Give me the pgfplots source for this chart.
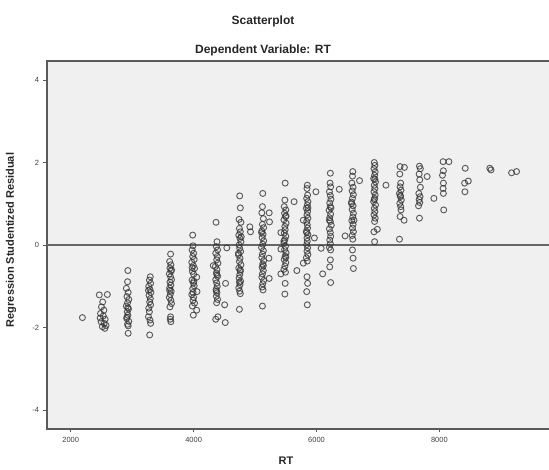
\documentclass[border=0pt]{standalone}
\usepackage{pgfplots}
\pgfplotsset{compat=1.18}
\usepackage{pgfplotstable}
\usepackage{fontspec}
\setmainfont{Liberation Sans}
\definecolor{bgc}{HTML}{F0F0F0}
\definecolor{axc}{HTML}{5A5A5A}
\pgfplotstableread{
x y
2190 -1.76
2465 -1.21
2596 -1.20
2520 -1.38
2500 -1.50
2540 -1.58
2485 -1.66
2530 -1.72
2560 -1.80
2495 -1.86
2545 -1.90
2575 -1.95
2515 -1.98
2555 -2.02
2480 -1.77
2930 -0.62
2925 -0.89
2905 -1.05
2935 -1.15
2915 -1.25
2945 -1.32
2925 -1.40
2905 -1.48
2940 -1.55
2920 -1.62
2930 -1.70
2910 -1.78
2945 -1.85
2925 -1.92
2935 -1.96
2915 -1.75
2930 -1.52
2935 -2.14
3295 -0.77
3280 -0.85
3300 -0.93
3270 -1.00
3290 -1.08
3305 -1.15
3275 -1.22
3295 -1.30
3285 -1.38
3265 -1.10
3300 -1.45
3270 -1.53
3280 -1.62
3265 -1.74
3290 -1.82
3300 -1.90
3285 -2.18
3625 -0.22
3610 -0.40
3630 -0.48
3615 -0.56
3635 -0.63
3605 -0.70
3625 -0.77
3640 -0.84
3615 -0.90
3630 -0.97
3610 -1.04
3635 -1.12
3620 -1.20
3605 -1.27
3630 -1.34
3640 -1.42
3615 -1.50
3625 -1.74
3620 -1.80
3630 -1.86
3610 -1.10
3640 -0.60
3985 0.24
3990 -0.02
3975 -0.12
4000 -0.20
3985 -0.28
4010 -0.35
3970 -0.42
3995 -0.50
4015 -0.57
3980 -0.64
4000 -0.71
4050 -0.78
3975 -0.85
3995 -0.92
4010 -0.99
3985 -1.06
4055 -1.13
3970 -1.20
4000 -1.27
3990 -1.34
4015 -1.41
3980 -1.48
4050 -1.58
3995 -1.70
3975 -0.55
4005 -0.88
3990 -1.15
4365 0.55
4380 0.08
4370 -0.04
4390 -0.12
4360 -0.20
4385 -0.28
4375 -0.36
4395 -0.44
4355 -0.52
4380 -0.60
4370 -0.68
4390 -0.76
4360 -0.84
4375 -0.92
4385 -1.00
4365 -1.08
4380 -1.16
4370 -1.24
4390 -1.32
4375 -1.40
4540 -0.07
4320 -0.50
4520 -0.93
4505 -1.45
4395 -1.74
4360 -1.80
4515 -1.88
4380 -0.72
4370 -1.12
4750 1.19
4760 0.90
4740 0.62
4770 0.55
4915 0.44
4925 0.32
4745 0.40
4760 0.32
4735 0.24
4755 0.16
4770 0.08
4740 0.00
4750 -0.08
4765 -0.16
4730 -0.24
4755 -0.32
4745 -0.40
4770 -0.48
4735 -0.56
4760 -0.64
4750 -0.72
4740 -0.80
4765 -0.88
4755 -0.96
4735 -1.04
4750 -1.12
4760 -1.18
4745 -1.56
4775 0.20
4730 -0.20
4760 -0.60
4745 -0.90
5125 1.25
5120 0.93
5230 0.78
5110 0.78
5135 0.64
5235 0.56
5120 0.50
5140 0.42
5110 0.34
5130 0.26
5115 0.18
5140 0.10
5125 0.02
5105 -0.06
5135 -0.14
5120 -0.22
5225 -0.32
5110 -0.30
5140 -0.38
5125 -0.46
5115 -0.54
5135 -0.62
5120 -0.70
5230 -0.81
5110 -0.78
5140 -0.86
5125 -0.94
5115 -1.02
5130 -1.09
5120 -1.48
5105 0.30
5135 -0.50
5490 1.50
5485 1.09
5635 1.05
5475 0.93
5500 0.85
5480 0.77
5495 0.69
5470 0.61
5505 0.53
5485 0.45
5490 0.37
5475 0.29
5500 0.21
5485 0.13
5470 0.05
5495 -0.03
5480 -0.11
5505 -0.19
5490 -0.27
5475 -0.35
5500 -0.43
5485 -0.51
5470 -0.59
5495 -0.66
5680 -0.62
5420 0.30
5420 -0.10
5420 -0.70
5490 -0.93
5485 -1.19
5505 0.70
5470 0.10
5500 -0.30
5850 1.45
5845 1.37
5990 1.29
5855 1.21
5840 1.13
5860 1.05
5850 0.97
5835 0.89
5855 0.81
5845 0.73
5860 0.65
5785 0.60
5840 0.57
5850 0.49
5855 0.41
5835 0.33
5860 0.25
5845 0.17
5965 0.17
5850 0.09
5840 0.01
5855 -0.07
5845 -0.15
5860 -0.23
5835 -0.31
5850 -0.39
5785 -0.44
5845 -0.77
5855 -0.93
5840 -1.13
5850 -1.45
5860 0.90
5840 0.30
6225 1.74
6220 1.50
6230 1.41
6370 1.35
6210 1.29
6225 1.20
6235 1.11
6215 1.02
6225 0.93
6205 0.84
6230 0.75
6215 0.66
6225 0.57
6240 0.48
6210 0.39
6225 0.30
6230 0.21
6215 0.12
6225 0.03
6210 -0.06
6075 -0.08
6230 -0.12
6225 -0.36
6215 -0.53
6100 -0.70
6230 -0.91
6235 0.90
6210 0.60
6590 1.78
6585 1.67
6700 1.56
6575 1.50
6595 1.40
6580 1.31
6600 1.22
6585 1.13
6570 1.04
6595 0.95
6580 0.86
6600 0.77
6590 0.68
6575 0.59
6595 0.50
6585 0.41
6600 0.32
6580 0.23
6465 0.22
6590 0.14
6585 -0.12
6595 -0.32
6600 -0.57
6610 0.60
6570 1.00
6940 2.00
6950 1.93
6935 1.85
6955 1.77
6945 1.69
6930 1.61
6960 1.53
6940 1.45
6950 1.37
6935 1.29
6955 1.21
6945 1.13
6930 1.05
6960 0.97
6940 0.89
6950 0.81
6935 0.73
6955 0.65
6945 0.57
6990 0.38
6935 0.32
6945 0.08
6950 1.60
6940 1.10
7360 1.90
7430 1.88
7355 1.72
7370 1.50
7130 1.45
7360 1.41
7375 1.33
7350 1.25
7365 1.17
7380 1.09
7355 1.01
7370 0.93
7360 0.69
7425 0.60
7350 0.14
7365 1.20
7375 0.85
7675 1.91
7690 1.85
7670 1.72
7800 1.66
7680 1.58
7665 1.25
7685 1.17
7670 1.10
7680 1.03
7660 0.95
7910 1.13
7675 0.65
7690 1.40
8060 2.02
8155 2.02
8065 1.80
8050 1.69
8065 1.50
8060 1.37
8065 1.25
8070 0.85
8420 1.86
8410 1.50
8470 1.55
8415 1.29
8820 1.86
8840 1.82
9175 1.75
9255 1.78
}\resid
\begin{document}
\begin{tikzpicture}
\begin{axis}[
  at={(0,0)}, anchor=south west,
  scale only axis,
  width=504pt, height=368pt,
  xmin=1614, xmax=9816,
  ymin=-4.46, ymax=4.46,
  xtick={2000,4000,6000,8000},
  ytick={-4,-2,0,2,4},
  xtick pos=bottom, ytick pos=left,
  scaled x ticks=false,
  x tick label style={/pgf/number format/1000 sep={}},
  /pgf/number format/assume math mode=true,
  tick label style={font=\fontsize{7.5}{9}\selectfont, text=black!75},
  tick align=outside,
  major tick length=3.5pt,
  tick style={axc, line width=0.8pt},
  axis line style={axc, line width=1.1pt},
  axis background/.style={fill=bgc},
  xticklabel shift=1pt,
  yticklabel shift=1pt,
  clip=true,
]
\addplot[black!60, line width=1.2pt, forget plot] coordinates {(1614,0) (9816,0)};
\addplot[only marks, mark=o, mark size=3pt,
  mark options={draw=black!80, line width=0.95pt, draw opacity=0.78}]
  table[x=x, y=y] {\resid};
\end{axis}
\node[font=\bfseries\fontsize{12}{14}\selectfont, text=black!85] at (216pt,408pt) {Scatterplot};
\node[font=\bfseries\fontsize{12}{14}\selectfont, text=black!85] at (216pt,379pt) {Dependent Variable: RT};
\node[font=\bfseries\fontsize{11}{13}\selectfont, text=black!85, rotate=90] at (-36pt,189pt) {Regression Studentized Residual};
\node[font=\bfseries\fontsize{11}{13}\selectfont, text=black!85] at (239pt,-32pt) {RT};
\pgfresetboundingbox
\path[use as bounding box] (-47pt,-41pt) rectangle (502pt,429pt);
\end{tikzpicture}
\end{document}
